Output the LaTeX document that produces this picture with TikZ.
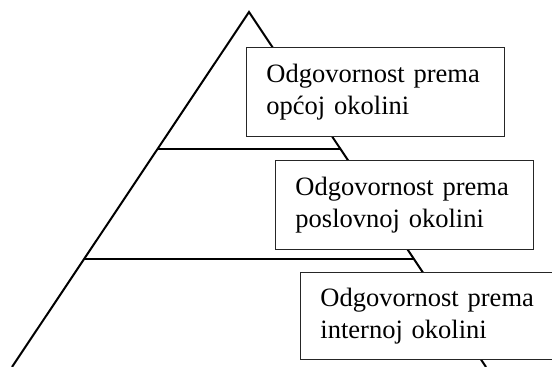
\documentclass[tikz,border=0pt]{standalone}
\usepackage{fontspec}
\setmainfont{Liberation Serif}
\begin{document}
\begin{tikzpicture}[x=1pt,y=1pt,
  side/.style={line width=2pt},
  level/.style={line width=2pt},
  levelbox/.style={draw=black!85, fill=white, line width=0.9pt, anchor=north west,
    align=left, text width=218pt, inner xsep=20pt, inner ysep=0pt,
    minimum height=89pt, font=\fontsize{26.5}{32}\selectfont}]
\useasboundingbox (0,0) rectangle (552,367);
% triangle
\coordinate (apex) at (249,355);
\coordinate (bl) at (12,0);
\coordinate (br) at (486,0);
\draw[side] (bl) -- (apex) -- (br);
\path (apex) -- (bl) coordinate[pos=137/355] (h1l) coordinate[pos=247/355] (h2l);
\path (apex) -- (br) coordinate[pos=137/355] (h1r) coordinate[pos=247/355] (h2r);
\draw[level] (h1l) -- (h1r);
\draw[level] (h2l) -- (h2r);
% boxes
\node[levelbox] (b1) at (246,320) {Odgovornost prema\\općoj okolini};
\node[levelbox] (b2) at (275,207) {Odgovornost prema\\poslovnoj okolini};
\node[levelbox, minimum height=87pt] (b3) at (300,95) {Odgovornost prema\\internoj okolini};
\end{tikzpicture}
\end{document}
